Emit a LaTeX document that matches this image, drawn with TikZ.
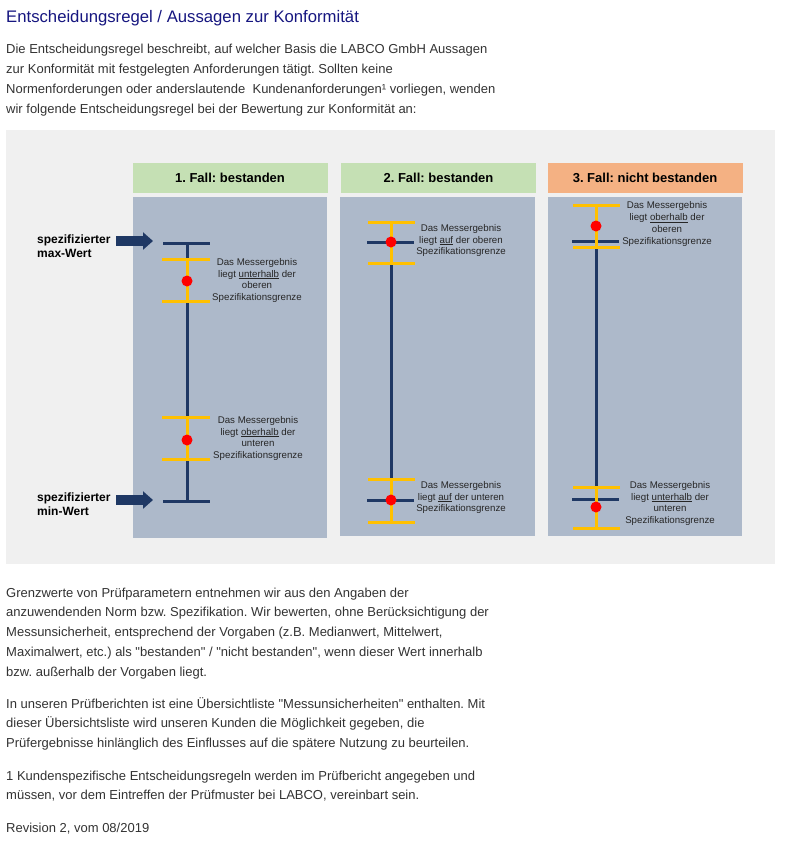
\documentclass[tikz,border=0pt]{standalone}
\usepackage{fontspec}
\setmainfont{Liberation Sans}[Ligatures=TeXOff]
\usetikzlibrary{arrows.meta, positioning}

\definecolor{titleblue}{RGB}{22,22,128}
\definecolor{bodygray}{RGB}{51,51,51}
\definecolor{bggray}{RGB}{240,240,240}
\definecolor{passgreen}{RGB}{197,224,180}
\definecolor{failorange}{RGB}{244,177,131}
\definecolor{panelblue}{RGB}{173,185,202}
\definecolor{limitnavy}{RGB}{31,56,100}
\definecolor{erryellow}{RGB}{255,192,0}

\newcommand{\bodyfont}{\fontsize{13}{19.8}\selectfont}
\newcommand{\notefont}{\fontsize{9.7}{11.7}\selectfont}
\frenchspacing

\begin{document}
\begin{tikzpicture}[x=1pt, y=-1pt,
  para/.style={anchor=base west, align=left, inner sep=0pt, font=\bodyfont, text=bodygray},
  head/.style={minimum width=195pt, minimum height=30pt, inner sep=0pt, font=\fontsize{13}{15}\selectfont\bfseries},
  note/.style={align=center, inner sep=0pt, font=\notefont, text=black!85},
  spec/.style={anchor=west, align=left, inner sep=0pt, font=\fontsize{12}{14}\selectfont\bfseries},
  lim/.style={draw=limitnavy, line width=3pt},
  err/.style={draw=erryellow, line width=3pt},
  val/.style={circle, fill=red, minimum size=11pt, inner sep=0pt},
  arr/.style={draw=limitnavy, line width=10pt, -{Triangle[length=10pt, width=17pt]}}]
\useasboundingbox (0,0) rectangle (787,846);
\fill[white] (0,0) rectangle (787,846);

% text above the figure (base = last line)
\node[anchor=base west, inner sep=0pt, font=\fontsize{16.7}{20}\selectfont, text=titleblue] (title) at (6,22) {Entscheidungsregel / Aussagen zur Konformität};
\node[para, font=\fontsize{13}{20}\selectfont] (intro) at (6,113) {Die Entscheidungsregel beschreibt, auf welcher Basis die LABCO GmbH Aussagen\\zur Konformität mit festgelegten Anforderungen tätigt. Sollten keine\\Normenforderungen oder anderslautende~ Kundenanforderungen¹ vorliegen, wenden\\wir folgende Entscheidungsregel bei der Bewertung zur Konformität an:};

% figure
\fill[bggray] (6,130) rectangle (775,564);
\node[head, fill=passgreen] (case1) at (230,178) {1. Fall: bestanden};
\node[head, fill=passgreen] (case2) at (438.5,178) {2. Fall: bestanden};
\node[head, fill=failorange] (case3) at (645,178) {3. Fall: nicht bestanden};
\fill[panelblue] (133,197) rectangle (327,538);
\fill[panelblue] (340,197) rectangle (535,536);
\fill[panelblue] (548,197) rectangle (742,536);

% case 1
\draw[lim] (187,243) -- (187,501);
\draw[lim] (163,243) -- (210,243);
\draw[lim] (163,501) -- (210,501);
\draw[err] (187,259) -- (187,301);
\draw[err] (162,259) -- (210,259);
\draw[err] (162,301) -- (210,301);
\draw[err] (187,417) -- (187,459);
\draw[err] (162,417) -- (210,417);
\draw[err] (162,459) -- (210,459);
\node[val] (value1a) at (187,281) {};
\node[val] (value1b) at (187,440) {};
\node[note] (note1a) at (257,280.5) {Das Messergebnis\\liegt \underline{unterhalb} der\\oberen\\Spezifikationsgrenze};
\node[note] (note1b) at (258,438.5) {Das Messergebnis\\liegt \underline{oberhalb} der\\unteren\\Spezifikationsgrenze};

% case 2
\draw[lim] (391,242) -- (391,500);
\draw[lim] (367,242) -- (414,242);
\draw[lim] (367,500) -- (414,500);
\draw[err] (391,222) -- (391,263);
\draw[err] (368,222) -- (415,222);
\draw[err] (368,263) -- (415,263);
\draw[err] (391,479) -- (391,522);
\draw[err] (368,479) -- (415,479);
\draw[err] (368,522) -- (415,522);
\node[val] (value2a) at (391,242) {};
\node[val] (value2b) at (391,500) {};
\node[note] (note2a) at (461,240.5) {Das Messergebnis\\liegt \underline{auf} der oberen\\Spezifikationsgrenze};
\node[note] (note2b) at (461,497.5) {Das Messergebnis\\liegt \underline{auf} der unteren\\Spezifikationsgrenze};

% case 3
\draw[lim] (596,241) -- (596,499);
\draw[lim] (572,241) -- (619,241);
\draw[lim] (572,499) -- (619,499);
\draw[err] (596,205) -- (596,247);
\draw[err] (573,205) -- (620,205);
\draw[err] (573,247) -- (620,247);
\draw[err] (596,487) -- (596,528);
\draw[err] (573,487) -- (620,487);
\draw[err] (573,528) -- (620,528);
\node[val] (value3a) at (596,226) {};
\node[val] (value3b) at (596,507) {};
\node[note] (note3a) at (667,224) {Das Messergebnis\\liegt \underline{oberhalb} der\\oberen\\Spezifikationsgrenze};
\node[note] (note3b) at (670,503.5) {Das Messergebnis\\liegt \underline{unterhalb} der\\unteren\\Spezifikationsgrenze};

% specified limits
\node[spec] (maxlabel) at (37,246) {spezifizierter\\max-Wert};
\node[spec] (minlabel) at (37,504) {spezifizierter\\min-Wert};
\coordinate (maxtail) at (116,241);
\coordinate (maxtip) at (153,241);
\coordinate (mintail) at (116,500);
\coordinate (mintip) at (153,500);
\draw[arr] (maxtail) -- (maxtip);
\draw[arr] (mintail) -- (mintip);

% text below the figure (base = last line)
\node[para] (limits) at (6,676.2) {Grenzwerte von Prüfparametern entnehmen wir aus den Angaben der\\anzuwendenden Norm bzw. Spezifikation. Wir bewerten, ohne Berücksichtigung der\\Messunsicherheit, entsprechend der Vorgaben (z.B. Medianwert, Mittelwert,\\Maximalwert, etc.) als "bestanden" / "nicht bestanden", wenn dieser Wert innerhalb\\bzw. außerhalb der Vorgaben liegt.};
\node[para] (overview) at (6,747.6) {In unseren Prüfberichten ist eine Übersichtliste "Messunsicherheiten" enthalten. Mit\\dieser Übersichtsliste wird unseren Kunden die Möglichkeit gegeben, die\\Prüfergebnisse hinlänglich des Einflusses auf die spätere Nutzung zu beurteilen.};
\node[para] (footnote) at (6,799.8) {1 Kundenspezifische Entscheidungsregeln werden im Prüfbericht angegeben und\\müssen, vor dem Eintreffen der Prüfmuster bei LABCO, vereinbart sein.};
\node[para] (revision) at (6,832) {Revision 2, vom 08/2019};
\end{tikzpicture}
\end{document}
